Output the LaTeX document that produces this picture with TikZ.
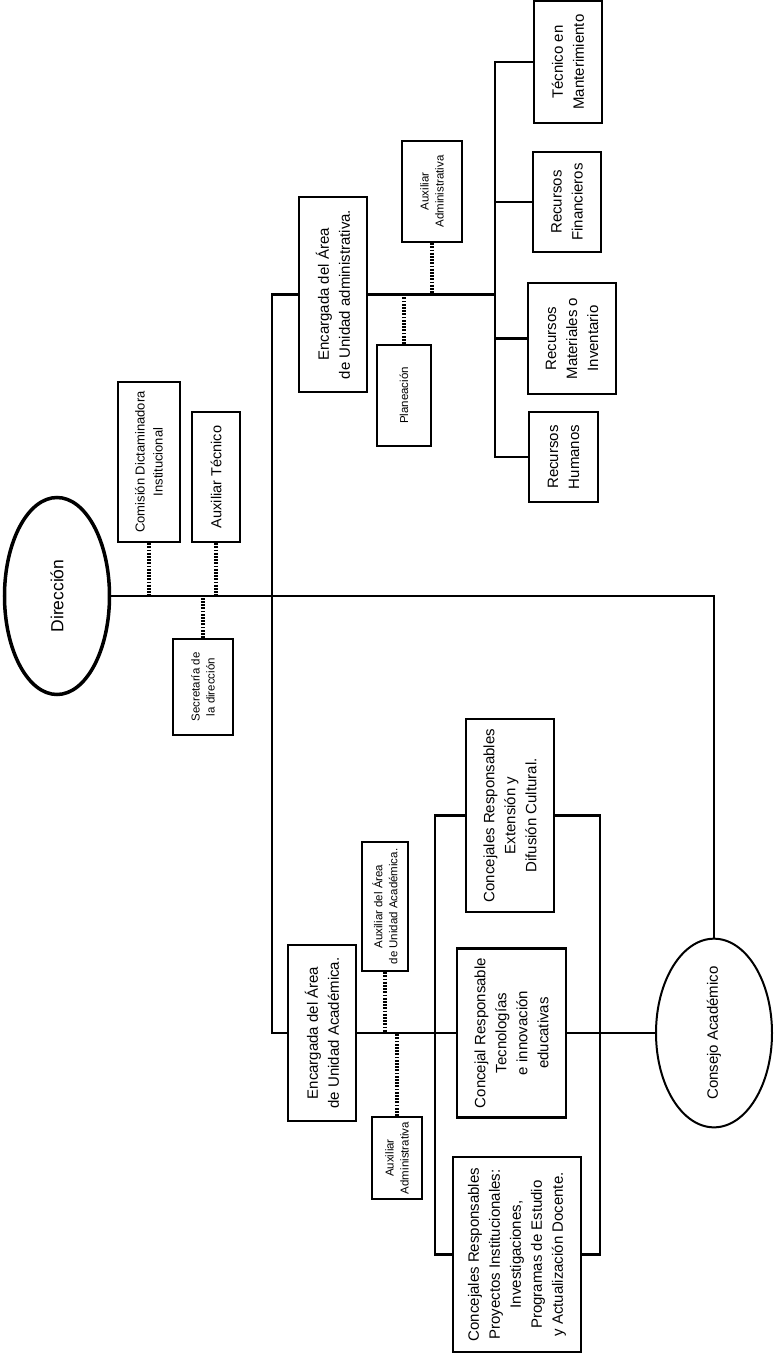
\documentclass[tikz,border=0pt]{standalone}
\usepackage{fontspec}
\setmainfont{Liberation Sans}
\usetikzlibrary{shapes.geometric}
\tikzset{>=stealth,
  caja/.style={draw, line width=2.2pt, rotate=90, align=center, inner sep=1pt, font=\fontsize{15}{21}\selectfont},
  cajita/.style={caja, font=\fontsize{11.5}{15}\selectfont},
  elipse/.style={draw, ellipse, rotate=90, inner sep=0pt},
  tam/.style 2 args={minimum height=#1pt, minimum width=#2pt},
  linea/.style={line width=2.2pt},
  punteado/.style={line width=3.2pt, dash pattern=on 1.8pt off 1.4pt}}

\begin{document}
\begin{tikzpicture}[x=1pt, y=-1pt]
\useasboundingbox (0,0) rectangle (777,1355);
\node[elipse, line width=3.5pt, minimum width=197pt, minimum height=105pt, font=\fontsize{17.5}{20}\selectfont] (dir) at (57,596) {Dirección};
\node[caja, tam={62}{160}, font=\fontsize{13}{18}\selectfont] (com) at (149,462) {Comisión Dictaminadora\\Institucional};
\node[caja, tam={48}{130}, font=\fontsize{14.5}{18}\selectfont] (auxtec) at (216,477) {Auxiliar Técnico};
\node[cajita, tam={60}{96}] (sec) at (203,687) {Secretaría de\\la dirección};
\node[caja, tam={68}{195}] (admin) at (333,294.5) {Encargada del Área\\de Unidad administrativa.};
\node[cajita, tam={54}{101}] (plan) at (404,395.5) {Planeación};
\node[cajita, tam={60}{101}] (auxad) at (432,191.5) {Auxiliar\\Administrativa};
\node[caja, tam={68}{122}] (tec) at (568,62) {Técnico en\\Manterimiento};
\node[caja, tam={68}{100}] (fin) at (567,202) {Recursos\\Financieros};
\node[caja, tam={88}{111}] (mat) at (572,338.5) {Recursos\\Materiales o\\Inventario};
\node[caja, tam={69}{90}] (hum) at (563.5,457) {Recursos\\Humanos};
\node[caja, tam={68}{176}] (acad) at (322,1033) {Encargada del Área\\de Unidad Académica.};
\node[cajita, tam={46}{129}] (auxua) at (385,906.5) {Auxiliar del Área\\de Unidad Académica.};
\node[cajita, tam={50}{82}] (auxac) at (397,1158) {Auxiliar\\Administrativa};
\node[caja, tam={88}{193}] (ext) at (510,815.5) {Concejales Responsables\\Extensión y\\Difusión Cultural.};
\node[caja, tam={109}{169}] (tecno) at (511.5,1033) {Concejal Responsable\\Tecnologías\\e innovación\\educativas};
\node[caja, tam={128}{195}] (proy) at (517,1254.5) {Concejales Responsables\\Proyectos Institucionales:\\Investigaciones,\\Programas de Estudio\\y Actualización Docente.};
\node[elipse, line width=2pt, minimum width=158pt, minimum height=116pt, font=\fontsize{15}{18}\selectfont] (cons) at (714,1033) {Consejo Académico};
\coordinate (s) at (272,596);
\coordinate (ra) at (495,294.5);
\coordinate (bi) at (435,1033);
\coordinate (bd) at (600,1033);
\draw[linea] (dir) -| (cons);
\draw[linea] (admin) -| (s) |- (acad);
\draw[linea] (admin) -- (ra);
\foreach \n in {tec,fin,mat,hum} \draw[linea] (\n) -| (ra);
\foreach \n in {com,auxtec,sec} \draw[punteado] (\n) -- (\n |- dir);
\foreach \n in {plan,auxad} \draw[punteado] (\n) -- (\n |- admin);
\draw[linea] (acad) -- (tecno) (tecno) -- (cons);
\foreach \n in {auxua,auxac} \draw[punteado] (\n) -- (\n |- acad);
\foreach \n in {ext,proy} \draw[linea] (bi) |- (\n) -| (bd);
\end{tikzpicture}
\end{document}
